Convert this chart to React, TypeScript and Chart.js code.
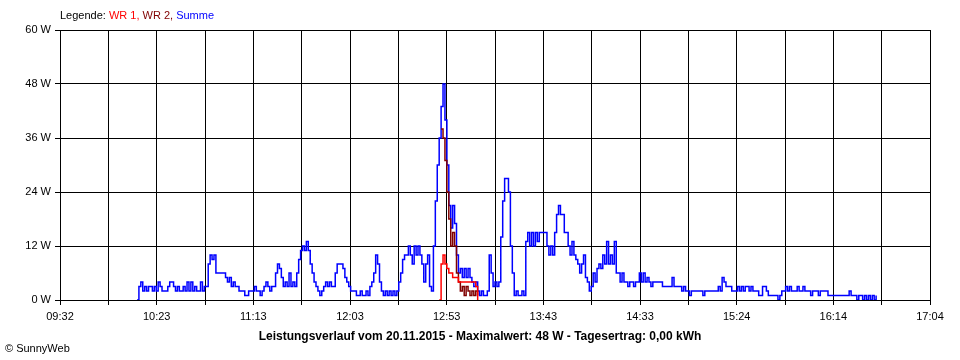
import React, { useEffect, useRef } from "react";
import { Chart, registerables } from "chart.js";

Chart.register(...registerables);

// x axis: minutes after 09:32, up to 17:04
const xTickLabels = ["09:32", "10:23", "11:13", "12:03", "12:53", "13:43", "14:33", "15:24", "16:14", "17:04"];
const xSpanMinutes = 452;
const xGridCount = 18;

const yMax = 60;
const yStep = 12;

// Summe (blue), one value per minute, starting at minute 40 after 09:32
const summeStart = 40;
const summe = [
  0, 3, 4, 2, 3, 2, 3, 3, 2, 3,
  2, 4, 3, 2, 2, 2, 3, 4, 4, 3,
  2, 3, 2, 2, 3, 2, 4, 2, 4, 2,
  3, 2, 2, 4, 2, 3, 3, 8, 10, 9,
  10, 6, 6, 6, 6, 6, 5, 4, 5, 3,
  4, 3, 3, 2, 2, 2, 1, 1, 2, 2,
  2, 3, 2, 2, 1, 2, 3, 4, 3, 2,
  3, 3, 6, 8, 7, 5, 3, 4, 3, 6,
  3, 4, 3, 6, 9, 11, 12, 11, 13, 11,
  8, 6, 4, 3, 2, 1, 2, 3, 4, 3,
  4, 3, 3, 6, 8, 8, 8, 7, 5, 4,
  3, 2, 2, 2, 1, 1, 2, 1, 1, 2,
  1, 3, 4, 6, 10, 8, 4, 2, 1, 2,
  1, 2, 1, 2, 1, 2, 4, 6, 9, 10,
  10, 12, 10, 8, 12, 10, 12, 10, 8, 4,
  8, 10, 3, 2, 12, 22, 30, 36, 43, 48,
  40, 30, 21, 16, 21, 17, 10, 6, 7, 5,
  7, 5, 7, 5, 4, 3, 4, 2, 1, 2,
  1, 1, 2, 10, 6, 3, 4, 3, 4, 14,
  22, 27, 27, 24, 12, 6, 1, 2, 1, 1,
  2, 1, 13, 15, 12, 15, 12, 15, 13, 15,
  15, 15, 15, 12, 10, 12, 10, 15, 19, 21,
  19, 19, 15, 15, 12, 10, 13, 10, 9, 8,
  6, 8, 10, 5, 4, 2, 3, 6, 4, 7,
  8, 7, 10, 8, 13, 8, 10, 8, 13, 6,
  6, 4, 6, 4, 4, 3, 4, 4, 3, 4,
  4, 6, 4, 6, 4, 5, 4, 3, 4, 4,
  4, 4, 4, 3, 3, 3, 3, 3, 5, 3,
  3, 3, 3, 2, 3, 2, 2, 1, 2, 2,
  2, 2, 2, 2, 1, 2, 2, 2, 2, 2,
  2, 2, 3, 2, 5, 4, 3, 3, 3, 2,
  2, 2, 3, 2, 3, 2, 3, 3, 2, 3,
  2, 2, 2, 1, 1, 3, 3, 2, 1, 1,
  1, 1, 1, 0, 1, 2, 2, 3, 2, 3,
  2, 2, 2, 3, 2, 2, 3, 2, 2, 2,
  1, 2, 2, 2, 1, 2, 2, 2, 2, 1,
  1, 1, 1, 1, 1, 1, 1, 1, 1, 1,
  2, 1, 1, 1, 0, 1, 1, 0, 1, 0,
  1, 0, 1, 0, 1,
];

// WR 1 (red)
const wr1Start = 197;
const wr1 = [0, 8, 10, 8, 7, 6, 6, 5, 5, 5, 4, 4, 4, 4, 4, 4, 4, 4, 4, 3, 0];

// WR 2 (dark red)
const wr2Start = 198;
const wr2 = [38, 36, 31, 24, 18, 12, 15, 12, 6, 4, 2, 3, 1, 3, 2, 1, 2, 1, 2, 1];

const legendParts = [
  { text: "Legende: ", color: "#000000" },
  { text: "WR 1,", color: "#ff0000" },
  { text: " WR 2,", color: "#800000" },
  { text: " Summe", color: "#0000ff" },
];
const titleText = "Leistungsverlauf vom 20.11.2015 - Maximalwert: 48 W - Tagesertrag: 0,00 kWh";
const copyrightText = "\u00A9 SunnyWeb";

const FONT = '"Liberation Sans", Arial, sans-serif';

const toPoints = (start: number, values: number[]) => values.map((v, i) => ({ x: start + i, y: v }));

const textPlugin = {
  id: "sunnyText",
  afterDraw(chart: any) {
    const ctx = chart.ctx;
    ctx.save();
    ctx.textBaseline = "middle";
    ctx.textAlign = "left";
    ctx.font = `11px ${FONT}`;
    let x = chart.chartArea.left;
    for (const p of legendParts) {
      ctx.fillStyle = p.color;
      ctx.fillText(p.text, x, 16);
      x += ctx.measureText(p.text).width;
    }
    ctx.fillStyle = "#000";
    ctx.font = `bold 12px ${FONT}`;
    ctx.textAlign = "center";
    ctx.fillText(titleText, chart.width / 2, 337);
    ctx.font = `11px ${FONT}`;
    ctx.textAlign = "left";
    ctx.fillText(copyrightText, 5, 349);
    ctx.restore();
  },
};

export default function App() {
  const ref = useRef<HTMLCanvasElement | null>(null);
  useEffect(() => {
    if (!ref.current) return;
    const chart = new Chart(ref.current, {
      type: "line",
      data: {
        datasets: [
          {
            label: "WR 1",
            data: toPoints(wr1Start, wr1),
            borderColor: "#ff0000",
            borderWidth: 1.5,
            pointRadius: 0,
            stepped: true,
            fill: false,
          },
          {
            label: "WR 2",
            data: toPoints(wr2Start, wr2),
            borderColor: "#800000",
            borderWidth: 1.5,
            pointRadius: 0,
            stepped: true,
            fill: false,
          },
          {
            label: "Summe",
            data: toPoints(summeStart, summe),
            borderColor: "#0000ff",
            borderWidth: 1.5,
            pointRadius: 0,
            stepped: true,
            fill: false,
          },
        ],
      },
      options: {
        responsive: false,
        animation: false,
        events: [],
        layout: { padding: { left: 0, right: 30, top: 30, bottom: 0 } },
        plugins: {
          legend: { display: false },
          tooltip: { enabled: false },
          title: { display: false },
        },
        scales: {
          x: {
            type: "linear",
            min: 0,
            max: xSpanMinutes,
            afterBuildTicks: (scale: any) => {
              scale.ticks = Array.from({ length: xGridCount + 1 }, (_, i) => ({
                value: (i * xSpanMinutes) / xGridCount,
              }));
            },
            afterFit: (scale: any) => {
              scale.height = 60;
            },
            ticks: {
              autoSkip: false,
              maxRotation: 0,
              padding: 5,
              color: "#000",
              font: { family: FONT, size: 11 },
              callback: (_v: any, index: number) => (index % 2 === 0 ? xTickLabels[index / 2] : ""),
            },
            grid: { color: "#000", lineWidth: 1, tickLength: 5, drawTicks: true },
            border: { color: "#000", width: 1 },
          },
          y: {
            min: 0,
            max: yMax,
            afterFit: (scale: any) => {
              scale.width = 60;
            },
            ticks: {
              stepSize: yStep,
              padding: 4,
              color: "#000",
              font: { family: FONT, size: 11 },
              callback: (v: any) => `${v} W`,
            },
            grid: { color: "#000", lineWidth: 1, tickLength: 5, drawTicks: true },
            border: { color: "#000", width: 1 },
          },
        },
      },
      plugins: [textPlugin],
    });
    return () => chart.destroy();
  }, []);
  return (
    <canvas
      ref={ref}
      width={960}
      height={360}
      style={{ position: "absolute", left: 0, top: 0, display: "block", background: "#fff" }}
    />
  );
}
